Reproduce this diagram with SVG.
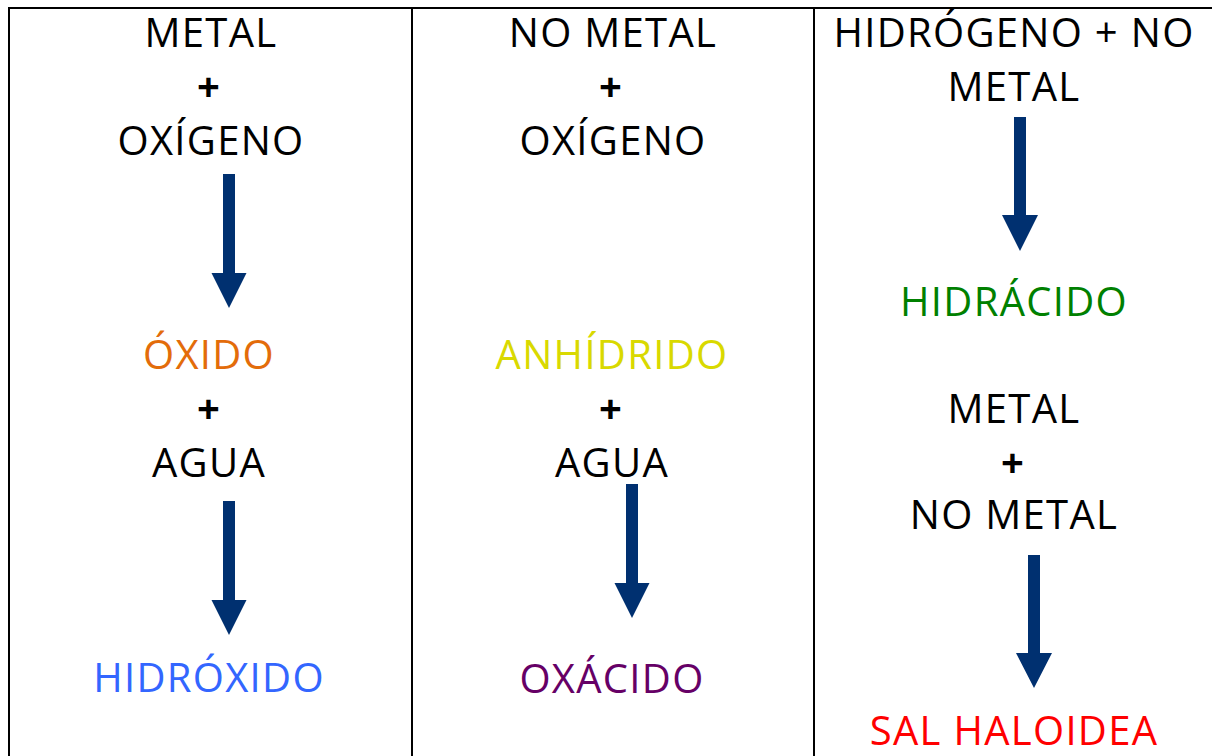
<svg xmlns="http://www.w3.org/2000/svg" width="1212" height="756" viewBox="0 0 1212 756">
<style>
.t{font-family:"Open Sans","DejaVu Sans",sans-serif;font-size:40px;letter-spacing:1.3px;text-anchor:middle;fill:#000}
.p{font-weight:bold}
.grid{stroke:#000;stroke-width:2;fill:none}
.arr{fill:#003070}
</style>
<defs>
<path id="ar" class="arr" d="M-6,0 H6 V99 H17.5 L0,134 L-17.5,99 H-6 Z"/>
</defs>
<rect width="1212" height="756" fill="#fff"/>
<g id="table">
<path class="grid" d="M9,756 V8 H1212 M412,8 V756 M814,8 V756"/>
</g>
<g id="connectors">
<use href="#ar" x="229" y="174"/>
<use href="#ar" x="229" y="501"/>
<path class="arr" d="M626,484 H638 V583 H649.5 L632,618 L614.5,583 H626 Z"/>
<path class="arr" d="M1014,117 H1026 V215 H1038 L1020,251 L1002,215 H1014 Z"/>
<path class="arr" d="M1028,555 H1040 V653 H1052 L1034,688 L1016,653 H1028 Z"/>
</g>
<g id="n-metal-oxigeno">
<text class="t" x="211" y="47">METAL</text>
<text class="t p" x="209" y="101">+</text>
<text class="t" x="211" y="155">OXÍGENO</text>
</g>
<g id="n-oxido-agua">
<text class="t" x="209" y="369" style="fill:#E36C0A">ÓXIDO</text>
<text class="t p" x="209" y="423">+</text>
<text class="t" x="209" y="477">AGUA</text>
</g>
<g id="n-hidroxido">
<text class="t" x="209" y="692" style="fill:#3366FF">HIDRÓXIDO</text>
</g>
<g id="n-nometal-oxigeno">
<text class="t" x="613" y="47">NO METAL</text>
<text class="t p" x="611" y="101">+</text>
<text class="t" x="613" y="155">OXÍGENO</text>
</g>
<g id="n-anhidrido-agua">
<text class="t" x="612" y="369" style="fill:#D9D900">ANHÍDRIDO</text>
<text class="t p" x="611" y="423">+</text>
<text class="t" x="612" y="477">AGUA</text>
</g>
<g id="n-oxacido">
<text class="t" x="612" y="693" style="fill:#660066">OXÁCIDO</text>
</g>
<g id="n-hidrogeno-nometal">
<text class="t" x="1014" y="47">HIDRÓGENO + NO</text>
<text class="t" x="1014" y="101">METAL</text>
</g>
<g id="n-hidracido">
<text class="t" x="1014" y="316" style="fill:#008000">HIDRÁCIDO</text>
</g>
<g id="n-metal-nometal">
<text class="t" x="1014" y="423">METAL</text>
<text class="t p" x="1013" y="477">+</text>
<text class="t" x="1014" y="529">NO METAL</text>
</g>
<g id="n-sal-haloidea">
<text class="t" x="1014" y="745" style="fill:#FF0000">SAL HALOIDEA</text>
</g>
</svg>
